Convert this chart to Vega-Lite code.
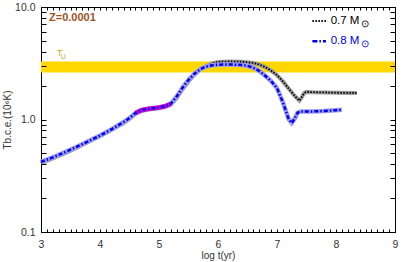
{
"$schema":"https://vega.github.io/schema/vega-lite/v6.json",
"width":354,"height":225,
"autosize":{"type":"none"},
"padding":{"left":41,"top":7,"right":12,"bottom":30},
"background":"white",
"config":{"view":{"stroke":"#000","strokeWidth":1},
 "axis":{"domain":false,"grid":false,"ticks":true,"zindex":1,"labelFont":"Liberation Sans","titleFont":"Liberation Sans","tickColor":"#000","tickWidth":1,"tickOpacity":1,"labelColor":"#333","titleColor":"#333","titleFontWeight":"normal","labelFlush":false,"labelOverlap":false},
 "text":{"font":"Liberation Sans"}},
"datasets":{
 "band":[{"t":3,"t2":9,"T":2.62,"T2":3.28}],
 "curves":[
  {"s":"0.7","t":3.0,"T":0.41},{"s":"0.7","t":3.2,"T":0.45},{"s":"0.7","t":3.4,"T":0.5},{"s":"0.7","t":3.6,"T":0.56},{"s":"0.7","t":3.8,"T":0.63},{"s":"0.7","t":4.0,"T":0.71},{"s":"0.7","t":4.2,"T":0.81},{"s":"0.7","t":4.4,"T":0.93},{"s":"0.7","t":4.5,"T":1.01},{"s":"0.7","t":4.6,"T":1.12},{"s":"0.7","t":4.7,"T":1.19},{"s":"0.7","t":4.8,"T":1.22},{"s":"0.7","t":4.9,"T":1.24},{"s":"0.7","t":5.0,"T":1.26},{"s":"0.7","t":5.1,"T":1.29},{"s":"0.7","t":5.2,"T":1.35},{"s":"0.7","t":5.3,"T":1.55},{"s":"0.7","t":5.4,"T":1.86},{"s":"0.7","t":5.5,"T":2.18},{"s":"0.7","t":5.6,"T":2.5},{"s":"0.7","t":5.7,"T":2.78},{"s":"0.7","t":5.8,"T":2.98},{"s":"0.7","t":5.9,"T":3.15},{"s":"0.7","t":6.0,"T":3.25},{"s":"0.7","t":6.2,"T":3.28},{"s":"0.7","t":6.4,"T":3.26},{"s":"0.7","t":6.6,"T":3.18},{"s":"0.7","t":6.7,"T":3.08},{"s":"0.7","t":6.8,"T":2.92},{"s":"0.7","t":6.9,"T":2.72},{"s":"0.7","t":7.0,"T":2.48},{"s":"0.7","t":7.1,"T":2.18},{"s":"0.7","t":7.2,"T":1.88},{"s":"0.7","t":7.3,"T":1.62},{"s":"0.7","t":7.38,"T":1.47},{"s":"0.7","t":7.42,"T":1.58},{"s":"0.7","t":7.46,"T":1.72},{"s":"0.7","t":7.5,"T":1.76},{"s":"0.7","t":7.6,"T":1.75},{"s":"0.7","t":7.8,"T":1.74},{"s":"0.7","t":8.0,"T":1.73},{"s":"0.7","t":8.35,"T":1.72},
  {"s":"0.8","t":3.0,"T":0.42},{"s":"0.8","t":3.2,"T":0.46},{"s":"0.8","t":3.4,"T":0.51},{"s":"0.8","t":3.6,"T":0.57},{"s":"0.8","t":3.8,"T":0.64},{"s":"0.8","t":4.0,"T":0.72},{"s":"0.8","t":4.2,"T":0.82},{"s":"0.8","t":4.4,"T":0.95},{"s":"0.8","t":4.5,"T":1.03},{"s":"0.8","t":4.6,"T":1.14},{"s":"0.8","t":4.7,"T":1.21},{"s":"0.8","t":4.8,"T":1.24},{"s":"0.8","t":4.9,"T":1.26},{"s":"0.8","t":5.0,"T":1.28},{"s":"0.8","t":5.1,"T":1.31},{"s":"0.8","t":5.2,"T":1.38},{"s":"0.8","t":5.3,"T":1.6},{"s":"0.8","t":5.4,"T":1.92},{"s":"0.8","t":5.5,"T":2.25},{"s":"0.8","t":5.6,"T":2.55},{"s":"0.8","t":5.7,"T":2.8},{"s":"0.8","t":5.8,"T":2.96},{"s":"0.8","t":5.9,"T":3.03},{"s":"0.8","t":6.0,"T":3.07},{"s":"0.8","t":6.1,"T":3.08},{"s":"0.8","t":6.2,"T":3.08},{"s":"0.8","t":6.3,"T":3.07},{"s":"0.8","t":6.4,"T":3.05},{"s":"0.8","t":6.5,"T":3.0},{"s":"0.8","t":6.6,"T":2.88},{"s":"0.8","t":6.7,"T":2.7},{"s":"0.8","t":6.8,"T":2.45},{"s":"0.8","t":6.9,"T":2.2},{"s":"0.8","t":7.0,"T":1.9},{"s":"0.8","t":7.1,"T":1.42},{"s":"0.8","t":7.2,"T":1.0},{"s":"0.8","t":7.25,"T":0.93},{"s":"0.8","t":7.3,"T":1.02},{"s":"0.8","t":7.35,"T":1.15},{"s":"0.8","t":7.4,"T":1.18},{"s":"0.8","t":7.6,"T":1.18},{"s":"0.8","t":7.8,"T":1.19},{"s":"0.8","t":8.0,"T":1.21},{"s":"0.8","t":8.1,"T":1.22}
 ],
 "leg":[{"s":"0.7","t":7.6,"T":7.5},{"s":"0.7","t":7.83,"T":7.5},{"s":"0.8","t":7.6,"T":4.97},{"s":"0.8","t":7.83,"T":4.97}],
 "notes":[
  {"k":"z","t":3.136,"T":8.0,"label":"Z=0.0001"},
  {"k":"tuT","t":3.27,"T":3.9,"label":"T"},
  {"k":"tuU","t":3.34,"T":3.6,"label":"U"},
  {"k":"l7","t":7.91,"T":7.5,"label":"0.7 M"},
  {"k":"l8","t":7.91,"T":4.97,"label":"0.8 M"},
  {"k":"s7","t":8.43,"T":7.05,"label":"⊙"},
  {"k":"s8","t":8.43,"T":4.68,"label":"⊙"}
 ]
},
"encoding":{
 "x":{"field":"t","type":"quantitative","scale":{"domain":[3,9],"nice":false,"zero":false},"axis":null},
 "y":{"field":"T","type":"quantitative","scale":{"type":"log","domain":[0.1,10],"nice":false},"axis":null}
},
"layer":[
 {"data":{"name":"band"},"mark":{"type":"rect","color":"#FFD700"},
  "encoding":{
   "x":{"field":"t","type":"quantitative","scale":{"domain":[3,9],"nice":false,"zero":false},
     "axis":{"orient":"bottom","ticks":true,"zindex":1,"tickColor":"#000","tickWidth":1,"tickOpacity":1,"values":[3,3.1,3.2,3.3,3.4,3.5,3.6,3.7,3.8,3.9,4,4.1,4.2,4.3,4.4,4.5,4.6,4.7,4.8,4.9,5,5.1,5.2,5.3,5.4,5.5,5.6,5.7,5.8,5.9,6,6.1,6.2,6.3,6.4,6.5,6.6,6.7,6.8,6.9,7,7.1,7.2,7.3,7.4,7.5,7.6,7.7,7.8,7.9,8,8.1,8.2,8.3,8.4,8.5,8.6,8.7,8.8,8.9,9],
      "tickSize":-3,
      "labelExpr":"abs(datum.value-round(datum.value))<0.001 ? format(datum.value,'d') : ''",
      "labelPadding":10,"labelFontSize":10.5,"title":"log t(yr)","titleFontSize":10,"titlePadding":1}},
   "x2":{"field":"t2"},
   "y":{"field":"T","type":"quantitative","scale":{"type":"log","domain":[0.1,10],"nice":false},
     "axis":{"orient":"left","ticks":true,"zindex":1,"tickColor":"#000","tickWidth":1,"tickOpacity":1,"values":[0.1,0.2,0.3,0.4,0.5,0.6,0.7,0.8,0.9,1,2,3,4,5,6,7,8,9,10],
      "tickSize":-5,
      "labelExpr":"abs(log(datum.value)/LN10-round(log(datum.value)/LN10))<0.001 ? format(datum.value,'.1f') : ''",
      "labelPadding":11,"labelFontSize":10.5,"title":"Tb.c.e.(10⁶K)","titleFontSize":10,"titlePadding":2}},
   "y2":{"field":"T2"}}},
 {"data":{"name":"band"},"mark":{"type":"rect","opacity":0},
  "encoding":{
   "x":{"field":"t","type":"quantitative","scale":{"domain":[3,9],"nice":false,"zero":false},
     "axis":{"orient":"top","ticks":true,"zindex":1,"tickColor":"#000","tickWidth":1,"tickOpacity":1,"values":[3,3.1,3.2,3.3,3.4,3.5,3.6,3.7,3.8,3.9,4,4.1,4.2,4.3,4.4,4.5,4.6,4.7,4.8,4.9,5,5.1,5.2,5.3,5.4,5.5,5.6,5.7,5.8,5.9,6,6.1,6.2,6.3,6.4,6.5,6.6,6.7,6.8,6.9,7,7.1,7.2,7.3,7.4,7.5,7.6,7.7,7.8,7.9,8,8.1,8.2,8.3,8.4,8.5,8.6,8.7,8.8,8.9,9],
      "tickSize":-3,"labels":false,"title":null}},
   "x2":{"field":"t2"},
   "y":{"field":"T","type":"quantitative","scale":{"type":"log","domain":[0.1,10],"nice":false},
     "axis":{"orient":"right","ticks":true,"zindex":1,"tickColor":"#000","tickWidth":1,"tickOpacity":1,"values":[0.1,0.2,0.3,0.4,0.5,0.6,0.7,0.8,0.9,1,2,3,4,5,6,7,8,9,10],
      "tickSize":-5,"labels":false,"title":null}},
   "y2":{"field":"T2"}}},
 {"data":{"name":"curves"},"transform":[{"filter":"datum.s=='0.7'"}],"mark":{"type":"line","stroke":"#9a9a9a","strokeWidth":4},"encoding":{}},
 {"data":{"name":"curves"},"transform":[{"filter":"datum.s=='0.7'"}],"mark":{"type":"line","stroke":"#000","strokeWidth":1.8,"strokeDash":[1.5,1.5]},"encoding":{}},
 {"data":{"name":"curves"},"transform":[{"filter":"datum.s=='0.8'"}],"mark":{"type":"line","stroke":"#9c9cf4","strokeWidth":4.5},"encoding":{}},
 {"data":{"name":"curves"},"transform":[{"filter":"datum.s=='0.8' && datum.t>=4.6 && datum.t<=5.2"}],"mark":{"type":"line","stroke":"#d000d0","strokeWidth":4.5},"encoding":{}},
 {"data":{"name":"curves"},"transform":[{"filter":"datum.s=='0.8'"}],"mark":{"type":"line","stroke":"#0000ee","strokeWidth":2.5,"strokeDash":[4,2,1.5,2]},"encoding":{}},
 {"data":{"name":"leg"},"transform":[{"filter":"datum.s=='0.7'"}],"mark":{"type":"line","stroke":"#000","strokeWidth":2,"strokeDash":[1.5,1.5]},"encoding":{}},
 {"data":{"name":"leg"},"transform":[{"filter":"datum.s=='0.8'"}],"mark":{"type":"line","stroke":"#0000ee","strokeWidth":2.5,"strokeDash":[5,2,1.5,2]},"encoding":{}},
 {"data":{"name":"notes"},"transform":[{"filter":"datum.k=='z'"}],"mark":{"type":"text","align":"left","baseline":"middle","fontSize":11,"fontWeight":"bold","color":"#a0521e"},"encoding":{"text":{"field":"label"}}},
 {"data":{"name":"notes"},"transform":[{"filter":"datum.k=='tuT'"}],"mark":{"type":"text","align":"left","baseline":"middle","fontSize":9,"color":"#c8a800"},"encoding":{"text":{"field":"label"}}},
 {"data":{"name":"notes"},"transform":[{"filter":"datum.k=='tuU'"}],"mark":{"type":"text","align":"left","baseline":"middle","fontSize":6.5,"color":"#c8a800"},"encoding":{"text":{"field":"label"}}},
 {"data":{"name":"notes"},"transform":[{"filter":"datum.k=='l7' || datum.k=='s7'"}],"mark":{"type":"text","align":"left","baseline":"middle","color":"#000"},"encoding":{"text":{"field":"label"},"size":{"condition":{"test":"datum.k=='s7'","value":9.5},"value":11.5}}},
 {"data":{"name":"notes"},"transform":[{"filter":"datum.k=='l8' || datum.k=='s8'"}],"mark":{"type":"text","align":"left","baseline":"middle","color":"#0000ee"},"encoding":{"text":{"field":"label"},"size":{"condition":{"test":"datum.k=='s8'","value":9.5},"value":11.5}}}
],
"resolve":{"axis":{"x":"independent","y":"independent"}}
}
